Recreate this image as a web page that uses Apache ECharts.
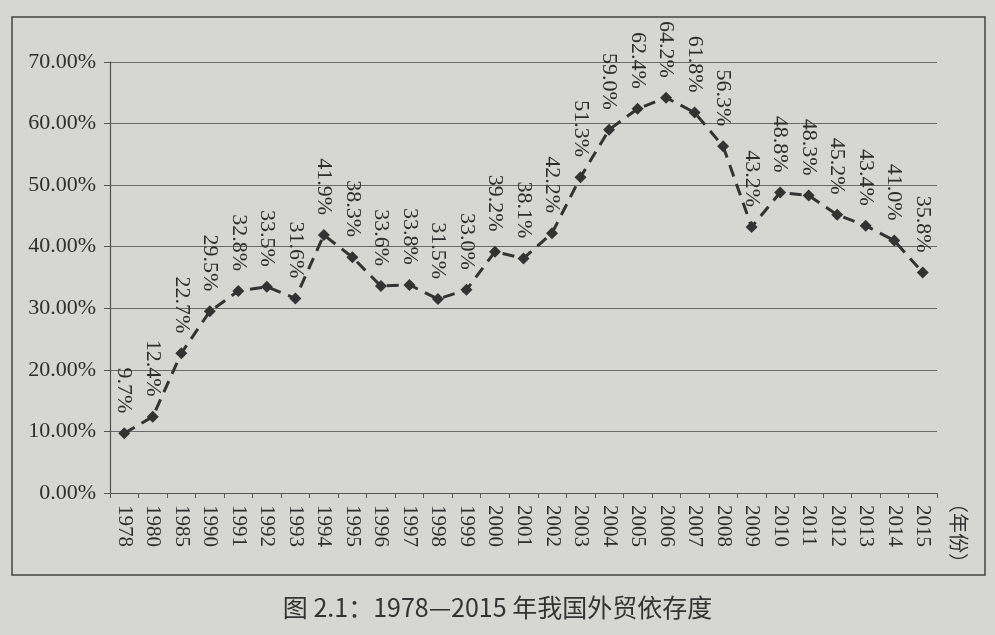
<!DOCTYPE html>
<html>
<head>
<meta charset="utf-8">
<script src="https://cdn.jsdelivr.net/npm/echarts@6/dist/echarts.min.js"></script>
<style>
html,body{margin:0;padding:0;background:#d6d6d2;}
#chart{width:995px;height:635px;}
</style>
</head>
<body>
<div id="chart"></div>
<script>
const years = ['1978','1980','1985','1990','1991','1992','1993','1994','1995','1996','1997','1998','1999','2000','2001','2002','2003','2004','2005','2006','2007','2008','2009','2010','2011','2012','2013','2014','2015'];
const dependence = [9.7,12.4,22.7,29.5,32.8,33.5,31.6,41.9,38.3,33.6,33.8,31.5,33.0,39.2,38.1,42.2,51.3,59.0,62.4,64.2,61.8,56.3,43.2,48.8,48.3,45.2,43.4,41.0,35.8];
const yTicks = [0,10,20,30,40,50,60,70];
const captionText = '图 2.1：1978—2015 年我国外贸依存度';
const xName = '（年份）';

const chart = echarts.init(document.getElementById('chart'));
const ink = '#2e2e2e';
chart.setOption({
  backgroundColor: '#d6d6d2',
  animation: false,
  title: {
    text: captionText,
    left: 'center',
    top: 590,
    textStyle: {fontFamily: '"Noto Sans CJK SC", "Noto Sans", sans-serif', fontSize: 25, fontWeight: 'normal', color: '#333'}
  },
  graphic: [{
    type: 'rect',
    shape: {x: 12, y: 17, width: 973, height: 558},
    style: {fill: 'none', stroke: '#444', lineWidth: 1.5}
  }],
  grid: {left: 110, right: 58, top: 62, bottom: 142},
  xAxis: {
    type: 'category',
    data: years,
    boundaryGap: true,
    name: xName,
    nameLocation: 'end',
    nameRotate: -90,
    nameGap: 22,
    nameTextStyle: {fontFamily: '"Noto Sans CJK SC", sans-serif', fontSize: 20, color: ink, align: 'left', verticalAlign: 'middle', padding: [0,0,0,0]},
    axisLine: {lineStyle: {color: '#555', width: 1.2}},
    axisTick: {show: true, alignWithLabel: false, length: 5, lineStyle: {color: '#555'}},
    axisLabel: {rotate: -90, interval: 0, margin: 12, fontFamily: '"Liberation Serif", "DejaVu Serif", serif', fontSize: 21, color: ink}
  },
  yAxis: {
    type: 'value',
    min: 0, max: 70, interval: 10,
    axisLine: {show: true, lineStyle: {color: '#555', width: 1.2}},
    axisTick: {show: true, length: 6, lineStyle: {color: '#555'}},
    splitLine: {lineStyle: {color: '#6a6a6a', width: 1.2}},
    axisLabel: {
      margin: 14,
      fontFamily: '"Liberation Serif", "DejaVu Serif", serif', fontSize: 22, color: ink,
      formatter: v => yTicks.includes(v) ? v.toFixed(2) + '%' : ''
    }
  },
  series: [{
    type: 'line',
    data: dependence,
    symbol: 'diamond',
    symbolSize: 12,
    itemStyle: {color: '#333'},
    lineStyle: {color: '#333', width: 3, type: [12, 8]},
    label: {
      show: true,
      position: 'top',
      distance: 14,
      rotate: -90,
      align: 'right',
      verticalAlign: 'middle',
      fontFamily: '"Liberation Serif", "DejaVu Serif", serif',
      fontSize: 22,
      color: ink,
      formatter: p => p.value.toFixed(1) + '%'
    }
  }]
});
</script>
</body>
</html>
